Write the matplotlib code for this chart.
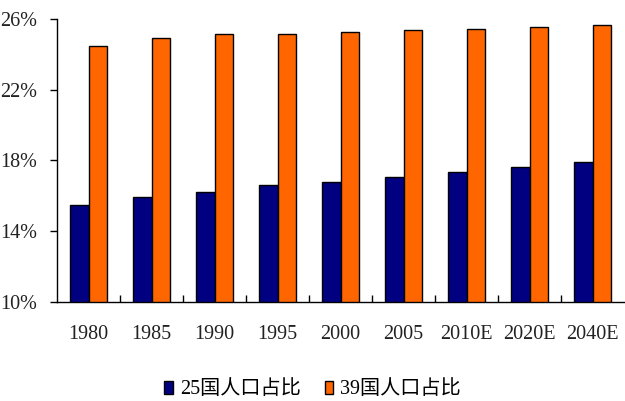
import matplotlib
matplotlib.use("Agg")
import matplotlib.pyplot as plt
import numpy as np
from matplotlib.ticker import FixedLocator

categories = ["1980", "1985", "1990", "1995", "2000", "2005", "2010E", "2020E", "2040E"]
series_names = ["25国人口占比", "39国人口占比"]
values_25 = [15.45, 15.9, 16.2, 16.6, 16.8, 17.05, 17.35, 17.65, 17.9]
values_39 = [24.5, 24.9, 25.15, 25.15, 25.25, 25.35, 25.45, 25.55, 25.65]
yticks = [10, 14, 18, 22, 26]
colors = ["#000080", "#FF6600"]

fam = ["Liberation Serif", "Noto Sans CJK SC"]
plt.rcParams["font.family"] = fam

fig = plt.figure(figsize=(6.25, 4.01), dpi=100)
ax = fig.add_axes([57/625, 99.3/401, 567/625, 282.7/401])

x = np.arange(len(categories))
w = 0.29
ax.bar(x - w/2, values_25, width=w, color=colors[0], edgecolor="black", linewidth=1.0, label=series_names[0])
ax.bar(x + w/2, values_39, width=w, color=colors[1], edgecolor="black", linewidth=1.0, label=series_names[1])

ax.set_xlim(-0.5, len(categories) - 0.5)
ax.set_ylim(10, 26)
ax.set_yticks(yticks)
ax.set_yticklabels([f"{v}%" for v in yticks])
ax.set_xticks(x)
ax.set_xticklabels(categories)
ax.xaxis.set_minor_locator(FixedLocator(x[:-1] + 0.5))

for s in ["top", "right"]:
    ax.spines[s].set_visible(False)
ax.spines["left"].set_linewidth(1.0)
ax.spines["bottom"].set_linewidth(1.0)

ax.tick_params(axis="x", which="major", length=0, pad=17, labelsize=14.5, labelcolor="#222222")
ax.tick_params(axis="x", which="minor", direction="in", length=5, width=1.0)
ax.tick_params(axis="y", which="major", direction="out", length=5, width=1.0, pad=9, labelsize=14.5, labelcolor="#222222")

fig.legend(loc="center", bbox_to_anchor=(0.5, 1 - 390/401), ncol=2, frameon=False,
           handlelength=0.42, handleheight=0.6, handletextpad=0.35, columnspacing=1.2,
           prop={"family": fam, "size": 14.5})

fig.savefig("out.png", dpi=100)
